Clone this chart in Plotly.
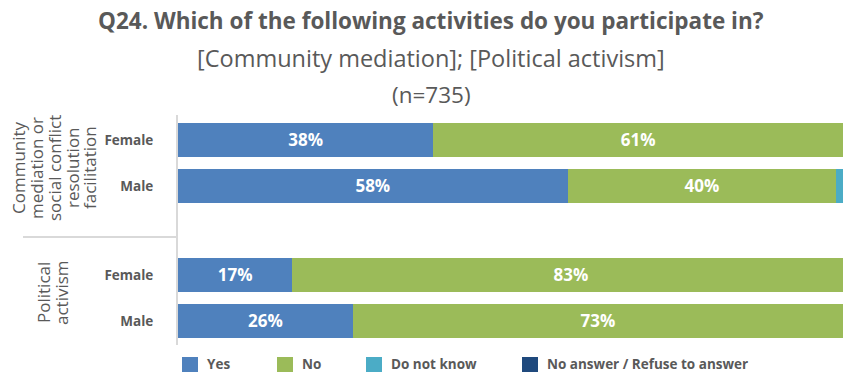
import plotly.graph_objects as go

# Survey results, share of respondents (%)
rows = ["Female", "Male", "Female", "Male"]
group_community = ["Community", "mediation or", "social conflict", "resolution", "facilitation"]
group_political = ["Political", "activism"]
series = ["Yes", "No", "Do not know", "No answer / Refuse to answer"]
yes = [38, 58, 17, 26]
no = [61, 40, 83, 73]
dont_know = [1, 2, 0, 1]
no_answer = [0, 0, 0, 0]
colors = ["#4F81BD", "#9BBB59", "#4BACC6", "#1F497D"]

values = [yes, no, dont_know, no_answer]
ypos = [0, 1, 2.935, 3.935]

GRAY = "#595959"
FONT = "Open Sans"
L, W = 178, 665          # plot-area left edge and width in px
T, H = 115, 230          # plot-area top edge and height in px


def px_x(x):
    return (x - L) / W


def px_y(y):
    return 1 - (y - T) / H


fig = go.Figure()
for name, vals, col in zip(series, values, colors):
    texts = [f"<b>{v}%</b>" if v >= 5 else "" for v in vals]
    fig.add_trace(go.Bar(
        y=ypos, x=vals, name=name, orientation="h",
        marker=dict(color=col, line=dict(width=0)),
        width=0.76, text=texts, textposition="inside",
        insidetextanchor="middle",
        textfont=dict(color="white", size=17, family=FONT),
        showlegend=False, hoverinfo="skip",
    ))

fig.update_layout(
    barmode="stack",
    width=843, height=374,
    margin=dict(l=L, r=843 - L - W, t=T, b=374 - T - H),
    plot_bgcolor="white", paper_bgcolor="white",
    font=dict(family=FONT, color=GRAY),
    uniformtext=dict(mode="show", minsize=10),
)
fig.update_xaxes(range=[0, 99], visible=False, fixedrange=True)
fig.update_yaxes(
    range=[4.457, -0.543], tickvals=ypos,
    ticktext=[f"<b>{r}</b>" for r in rows],
    tickfont=dict(size=13.5, color=GRAY, family=FONT),
    ticks="", showgrid=False, zeroline=False,
    showline=True, linecolor="#D9D9D9", linewidth=2,
    ticklabelstandoff=20,
)

# Titles
title_lines = [
    ("<b>Q24. Which of the following activities do you participate in?</b>", 21, 22.5),
    ("[Community mediation]; [Political activism]", 58, 23.5),
    ("(n=735)", 94, 22.5),
]
for txt, ypx, size in title_lines:
    fig.add_annotation(text=txt, xref="paper", yref="paper", x=px_x(431), y=px_y(ypx),
                       showarrow=False, font=dict(size=size, color=GRAY, family=FONT),
                       xanchor="center", yanchor="middle")

# Group labels (rotated, one annotation per line)
for lines, xs, yc in [(group_community, [18, 36, 54, 72, 89], 168),
                      (group_political, [43, 61], 293)]:
    for txt, xc in zip(lines, xs):
        fig.add_annotation(text=txt, xref="paper", yref="paper", x=px_x(xc), y=px_y(yc),
                           showarrow=False, textangle=-90, xanchor="center", yanchor="middle",
                           font=dict(size=17, color=GRAY, family=FONT))

# Separator between groups
fig.add_shape(type="line", xref="paper", yref="paper", x0=px_x(23), x1=0,
              y0=px_y(237), y1=px_y(237), line=dict(color="#D9D9D9", width=2))

# Legend drawn manually
leg_x = [182, 277, 366, 522]
for name, col, lx in zip(series, colors, leg_x):
    fig.add_shape(type="rect", xref="paper", yref="paper",
                  x0=px_x(lx), x1=px_x(lx + 16), y0=px_y(372), y1=px_y(357),
                  fillcolor=col, line=dict(width=0))
    fig.add_annotation(text=f"<b>{name}</b>", xref="paper", yref="paper",
                       x=px_x(lx + 23), y=px_y(364),
                       showarrow=False, xanchor="left", yanchor="middle",
                       font=dict(size=13.5, color=GRAY, family=FONT))

fig.write_html("out.html")
